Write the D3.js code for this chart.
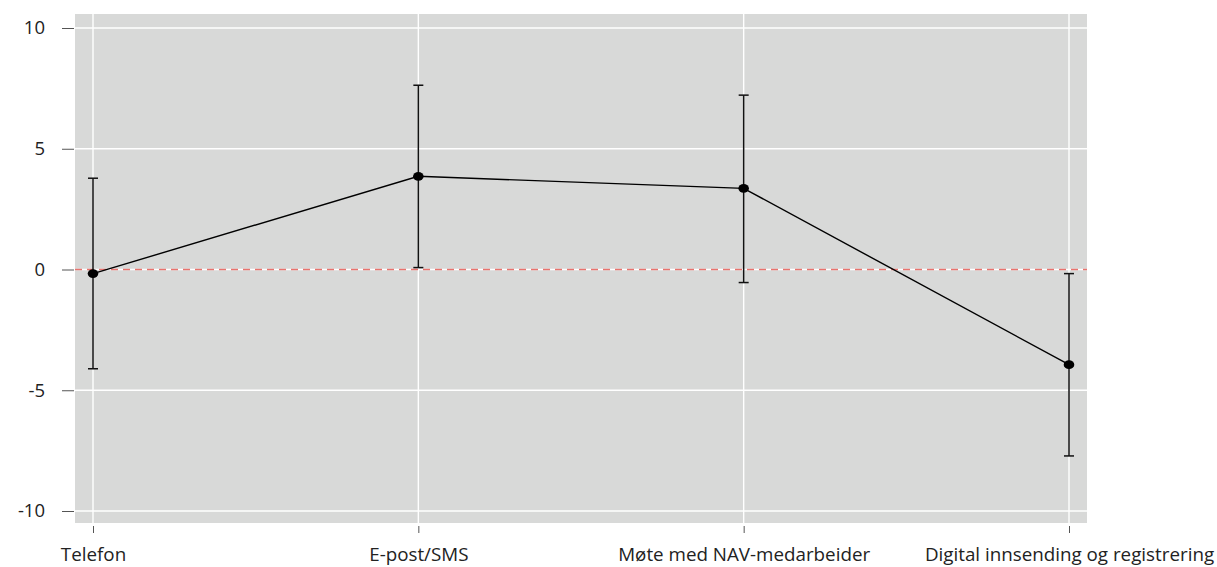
<!DOCTYPE html>
<html><head><meta charset="utf-8">
<script src="https://cdn.jsdelivr.net/npm/d3@7"></script>
<style>body{margin:0;background:#fff}svg{display:block}text{font-family:"Open Sans",sans-serif}</style>
</head><body><svg id="c" width="1217" height="567"></svg>
<script>
const categories = ["Telefon","E-post/SMS","Møte med NAV-medarbeider","Digital innsending og registrering"];
const estimates = [-0.17, 3.86, 3.36, -3.94];
const upper = [3.78, 7.63, 7.22, -0.17];
const lower = [-4.11, 0.08, -0.54, -7.72];
const yTicks = [10, 5, 0, -5, -10];
const yTickLabels = ["10","5","0","-5","-10"];

const svg = d3.select("#c");
const panel = {left:75, right:1087, top:14, bottom:523};
const x = d3.scalePoint().domain(categories).range([93,1069]);
const y = d3.scaleLinear().domain([-10,10]).range([511,28]);

svg.append("rect").attr("x",panel.left).attr("y",panel.top)
  .attr("width",panel.right-panel.left).attr("height",panel.bottom-panel.top).attr("fill","#d8d9d8");

// grid
svg.append("g").selectAll("line").data(yTicks).join("line")
  .attr("x1",panel.left).attr("x2",panel.right).attr("y1",d=>y(d)).attr("y2",d=>y(d))
  .attr("stroke","#fff").attr("stroke-width",1.4);
svg.append("g").selectAll("line").data(categories).join("line")
  .attr("x1",d=>x(d)).attr("x2",d=>x(d)).attr("y1",panel.top).attr("y2",panel.bottom)
  .attr("stroke","#fff").attr("stroke-width",1.4);

// zero line
svg.append("line").attr("x1",panel.left).attr("x2",panel.right).attr("y1",y(0)).attr("y2",y(0))
  .attr("stroke","#e8736e").attr("stroke-width",1.4).attr("stroke-dasharray","7,5");

// y axis
const yAxis = d3.axisLeft(y).tickValues(yTicks).tickFormat((d,i)=>yTickLabels[i]).tickSize(12).tickPadding(17);
const gy = svg.append("g").attr("transform",`translate(${panel.left-1},0)`).call(yAxis);
gy.select(".domain").remove();
gy.selectAll(".tick line").attr("stroke","#555");
gy.selectAll(".tick text").attr("font-size",18.5).attr("fill","#222");

// x axis
const xAxis = d3.axisBottom(x).tickSize(7).tickPadding(15);
const gx = svg.append("g").attr("transform",`translate(0,${panel.bottom+3})`).call(xAxis);
gx.select(".domain").remove();
gx.selectAll(".tick line").attr("stroke","#555");
gx.selectAll(".tick text").attr("font-size",18.8).attr("fill","#222");

const data = categories.map((c,i)=>({c,e:estimates[i],u:upper[i],l:lower[i]}));
// error bars
const eb = svg.append("g").attr("stroke","#111").attr("stroke-width",1.5);
eb.selectAll(".v").data(data).join("line").attr("x1",d=>x(d.c)).attr("x2",d=>x(d.c)).attr("y1",d=>y(d.u)).attr("y2",d=>y(d.l));
eb.selectAll(".t").data(data).join("line").attr("x1",d=>x(d.c)-5).attr("x2",d=>x(d.c)+5).attr("y1",d=>y(d.u)).attr("y2",d=>y(d.u));
eb.selectAll(".b").data(data).join("line").attr("x1",d=>x(d.c)-5).attr("x2",d=>x(d.c)+5).attr("y1",d=>y(d.l)).attr("y2",d=>y(d.l));

// line
svg.append("path").datum(data).attr("fill","none").attr("stroke","#000").attr("stroke-width",1.4)
  .attr("d",d3.line().x(d=>x(d.c)).y(d=>y(d.e)));
svg.append("g").selectAll("ellipse").data(data).join("ellipse")
  .attr("cx",d=>x(d.c)).attr("cy",d=>y(d.e)).attr("rx",5.3).attr("ry",4.4).attr("fill","#000");
</script></body></html>
